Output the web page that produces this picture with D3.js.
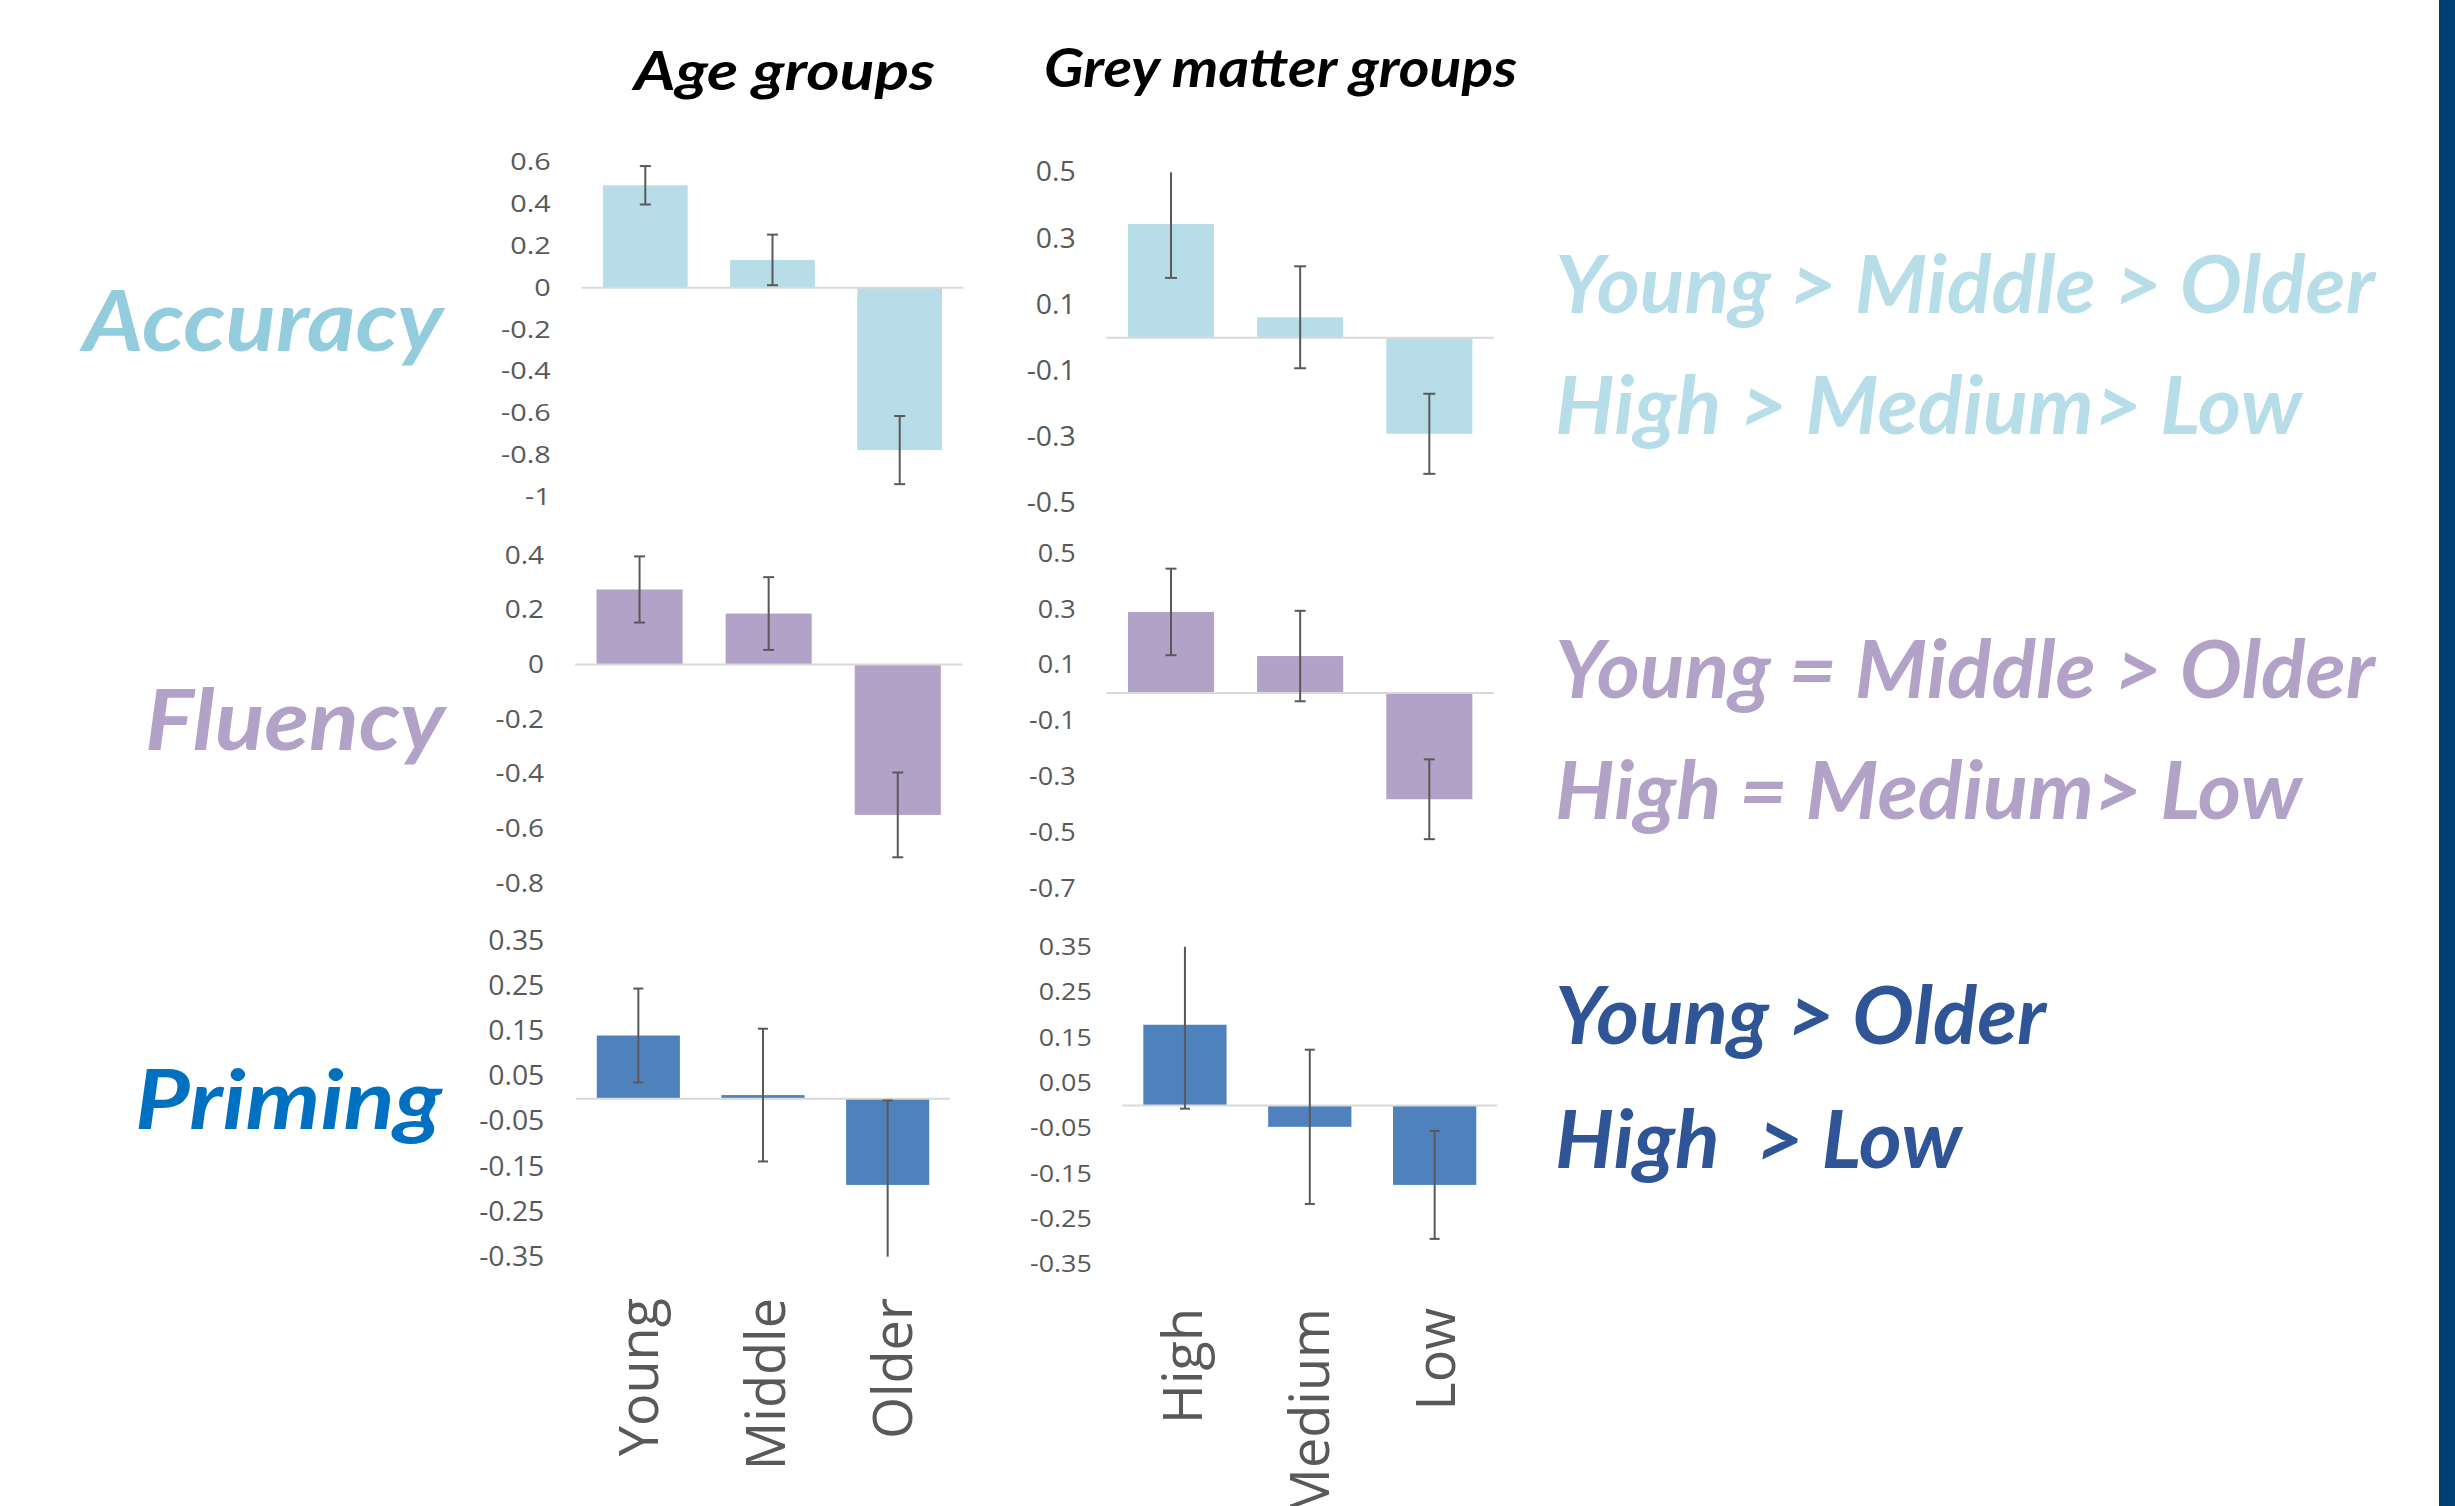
<!DOCTYPE html>
<html>
<head>
<meta charset="utf-8">
<script src="https://cdn.jsdelivr.net/npm/d3@7"></script>
<style>
  body { margin: 0; background: #fff; }
  svg { display: block; }
</style>
</head>
<body>
<div id="chart"></div>
<script>
// categories
const ageGroups = ["Young", "Middle", "Older"];
const greyGroups = ["High", "Medium", "Low"];

// bar values and error sizes
const accuracyAge = [0.49, 0.133, -0.777];
const accuracyAgeErr = [0.092, 0.121, 0.163];
const accuracyGrey = [0.344, 0.062, -0.29];
const accuracyGreyErr = [0.163, 0.154, 0.121];
const fluencyAge = [0.274, 0.186, -0.55];
const fluencyAgeErr = [0.121, 0.133, 0.155];
const fluencyGrey = [0.29, 0.132, -0.381];
const fluencyGreyErr = [0.155, 0.162, 0.143];
const primingAge = [0.14, 0.008, -0.191];
const primingAgeErr = [0.104, 0.147, 0.187];
const primingGrey = [0.178, -0.047, -0.175];
const primingGreyErr = [0.185, 0.17, 0.119];

// tick labels of each small chart
const accuracyAgeTicks = [0.6, 0.4, 0.2, 0, -0.2, -0.4, -0.6, -0.8, -1];
const accuracyGreyTicks = [0.5, 0.3, 0.1, -0.1, -0.3, -0.5];
const fluencyAgeTicks = [0.4, 0.2, 0, -0.2, -0.4, -0.6, -0.8];
const fluencyGreyTicks = [0.5, 0.3, 0.1, -0.1, -0.3, -0.5, -0.7];
const primingAgeTicks = [0.35, 0.25, 0.15, 0.05, -0.05, -0.15, -0.25, -0.35];
const primingGreyTicks = [0.35, 0.25, 0.15, 0.05, -0.05, -0.15, -0.25, -0.35];

// row names and the summary text on the right
const rowNames = ["Accuracy", "Fluency", "Priming"];
const ageSummary = ["Young > Middle > Older", "Young = Middle > Older", "Young > Older"];
const greySummary = ["High > Medium> Low", "High = Medium> Low", "High  > Low"];
const columnTitles = ["Age groups", "Grey matter groups"];

const W = 2455, H = 1506;
const bigFont = "Lato, 'Open Sans', sans-serif";
const axisFont = "'Open Sans', 'DejaVu Sans', sans-serif";
const axisColor = "#595959";

const rowStyle = [
  { bar: "#b7dee8", name: "#93cddd", summary: "#b7dee8" },
  { bar: "#b3a2c7", name: "#b3a2c7", summary: "#b3a2c7" },
  { bar: "#4f81bd", name: "#0070c0", summary: "#2f5597" }
];

// each pasted chart has its own frame
const panels = [
  { row: 0, cats: ageGroups, values: accuracyAge, errors: accuracyAgeErr, ticks: accuracyAgeTicks,
    xr: [581.7, 963.3], yr: [496.7, 162.3], labelX: 550.7, fs: 24, sx: 1.2, cap: 11 },
  { row: 0, cats: greyGroups, values: accuracyGrey, errors: accuracyGreyErr, ticks: accuracyGreyTicks,
    xr: [1106.4, 1493.9], yr: [503.3, 172.3], labelX: 1075.7, fs: 27, sx: 1.05, cap: 12 },
  { row: 1, cats: ageGroups, values: fluencyAge, errors: fluencyAgeErr, ticks: fluencyAgeTicks,
    xr: [575, 962.3], yr: [883.3, 555], labelX: 544, fs: 25, sx: 1.12, cap: 11 },
  { row: 1, cats: greyGroups, values: fluencyGrey, errors: fluencyGreyErr, ticks: fluencyGreyTicks,
    xr: [1106.4, 1493.9], yr: [888.3, 553.3], labelX: 1075.7, fs: 25, sx: 1.08, cap: 11 },
  { row: 2, cats: ageGroups, values: primingAge, errors: primingAgeErr, ticks: primingAgeTicks,
    xr: [576, 950], yr: [1256.7, 940.7], labelX: 544.3, fs: 27, sx: 1.05, cap: 10 },
  { row: 2, cats: greyGroups, values: primingGrey, errors: primingGreyErr, ticks: primingGreyTicks,
    xr: [1122.5, 1497.1], yr: [1264.3, 946.7], labelX: 1091.8, fs: 24, sx: 1.12, cap: 10 }
];

const svg = d3.select("#chart").append("svg")
  .attr("width", W)
  .attr("height", H);

svg.append("rect").attr("width", W).attr("height", H).attr("fill", "#fff");

// text stretched to the width it has in the picture
function fitText(g, str, x, y, width, size, color) {
  return g.append("text")
    .attr("x", x)
    .attr("y", y)
    .attr("font-family", bigFont)
    .attr("font-weight", "bold")
    .attr("font-style", "italic")
    .attr("font-size", size)
    .attr("fill", color)
    .attr("textLength", width)
    .attr("lengthAdjust", "spacingAndGlyphs")
    .style("white-space", "pre")
    .text(str);
}

panels.forEach(p => {
  const g = svg.append("g");
  const x = d3.scaleBand().domain(p.cats).range(p.xr).paddingInner(1 / 3).paddingOuter(1 / 6);
  const y = d3.scaleLinear().domain([d3.min(p.ticks), d3.max(p.ticks)]).range(p.yr);
  const [lo, hi] = y.domain();

  // y axis labels only
  const axis = g.append("g")
    .attr("transform", `translate(${p.labelX},0)`)
    .call(d3.axisLeft(y).tickValues(p.ticks).tickSize(0).tickPadding(0).tickFormat(d => String(d)));
  axis.select(".domain").remove();
  axis.selectAll("text")
    .attr("font-family", axisFont)
    .attr("font-size", p.fs)
    .attr("fill", axisColor)
    .attr("transform", `scale(${p.sx},1)`);

  const data = p.cats.map((c, i) => ({ cat: c, v: p.values[i], e: p.errors[i] }));

  g.selectAll("rect.bar")
    .data(data)
    .enter()
    .append("rect")
    .attr("class", "bar")
    .attr("x", d => x(d.cat))
    .attr("width", x.bandwidth())
    .attr("y", d => y(Math.max(0, d.v)))
    .attr("height", d => Math.abs(y(d.v) - y(0)))
    .attr("fill", rowStyle[p.row].bar);

  // zero line
  g.append("line")
    .attr("x1", p.xr[0])
    .attr("x2", p.xr[1])
    .attr("y1", y(0))
    .attr("y2", y(0))
    .attr("stroke", "#d9d9d9")
    .attr("stroke-width", 2);

  // error bars, clipped to the axis range
  data.forEach(d => {
    const cx = x(d.cat) + x.bandwidth() / 2;
    const top = Math.min(hi, d.v + d.e);
    const bot = Math.max(lo, d.v - d.e);
    g.append("line")
      .attr("x1", cx).attr("x2", cx)
      .attr("y1", y(top)).attr("y2", y(bot))
      .attr("stroke", axisColor)
      .attr("stroke-width", 2);
    [[top, d.v + d.e], [bot, d.v - d.e]].forEach(([shown, real]) => {
      if (shown !== real) return;
      g.append("line")
        .attr("x1", cx - p.cap / 2).attr("x2", cx + p.cap / 2)
        .attr("y1", y(shown)).attr("y2", y(shown))
        .attr("stroke", axisColor)
        .attr("stroke-width", 2);
    });
  });
});

// category labels under the bottom charts
const ageLabelX = d3.scalePoint().domain(ageGroups).range([658, 912]);
const greyLabelX = d3.scalePoint().domain(greyGroups).range([1202, 1455]);
[[ageGroups, ageLabelX, 1298], [greyGroups, greyLabelX, 1308]].forEach(([cats, sx, yEnd]) => {
  svg.append("g").selectAll("text")
    .data(cats)
    .enter()
    .append("text")
    .attr("transform", d => `translate(${sx(d)},${yEnd}) rotate(-90)`)
    .attr("text-anchor", "end")
    .attr("font-family", axisFont)
    .attr("font-size", 54)
    .attr("fill", axisColor)
    .text(d => d);
});

// column titles
const titles = svg.append("g");
fitText(titles, columnTitles[0], 634, 90, 301, 54, "#000");
fitText(titles, columnTitles[1], 1044, 87, 473, 54, "#000");

// row names on the left
const names = svg.append("g");
const nameSpots = [
  { x: 83, w: 360, y: 351, fs: 85 },
  { x: 145, w: 300, y: 750, fs: 85 },
  { x: 135, w: 307, y: 1129, fs: 82 }
];
rowNames.forEach((n, i) => {
  const s = nameSpots[i];
  fitText(names, n, s.x, s.y, s.w, s.fs, rowStyle[i].name);
});

// summary text on the right
const summary = svg.append("g");
const ageSpots = [
  { y: 313, w: 820 }, { y: 698, w: 820 }, { y: 1044, w: 491 }
];
const greySpots = [
  { y: 434, w: 747 }, { y: 819, w: 747 }, { y: 1168, w: 407 }
];
ageSummary.forEach((t, i) => {
  fitText(summary, t, 1555, ageSpots[i].y, ageSpots[i].w, 80, rowStyle[i].summary);
  fitText(summary, greySummary[i], 1555, greySpots[i].y, greySpots[i].w, 80, rowStyle[i].summary);
});

// dark slide edge on the right
svg.append("rect")
  .attr("x", 2439)
  .attr("y", 0)
  .attr("width", W - 2439)
  .attr("height", H)
  .attr("fill", "#003f73");
</script>
</body>
</html>
